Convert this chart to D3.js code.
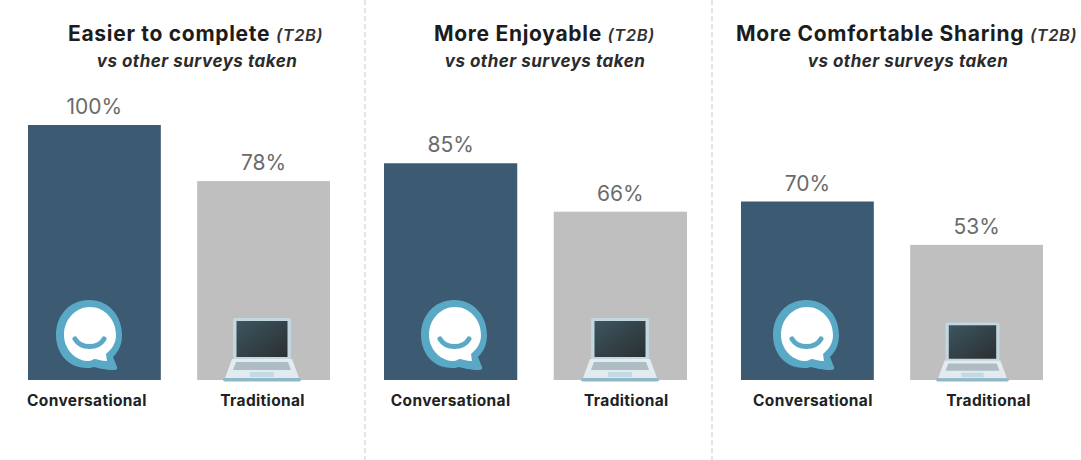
<!DOCTYPE html>
<html>
<head>
<meta charset="utf-8">
<script src="https://cdn.jsdelivr.net/npm/d3@7"></script>
<style>
html,body{margin:0;padding:0;background:#fff;}
svg{display:block;}
text{font-family:"Inter","Open Sans",sans-serif;}
</style>
</head>
<body>
<svg id="chart" width="1081" height="460"></svg>
<script>
// Survey results, top-two-box share per format
const categories = ["Conversational", "Traditional"];
const panelTitles = ["Easier to complete", "More Enjoyable", "More Comfortable Sharing"];
const titleSuffix = "(T2B)";
const subtitle = "vs other surveys taken";
const conversationalValues = [100, 85, 70];
const traditionalValues = [78, 66, 53];

// Panel placement
const panelRanges = [[28, 330], [384, 687], [741, 1043]];
const titleStarts = [68, 434, 736];
const subtitleCentres = [197, 545, 908];
const labelShifts = [[-7.5, -1], [0, 6], [5.5, 12]];
const bubbleCentres = [89, 454, 806];
const laptopCentres = [262, 620, 972.5];
const laptopScales = [1, 1, 0.93];
const dividers = [365, 712];

const colours = {Conversational: "#3d5a73", Traditional: "#bfbfbf"};
const svg = d3.select("#chart");
const baseline = 380;
const y = d3.scaleLinear().domain([0, 100]).range([baseline, 125]);

// Dark glass on the laptop screens
const glass = svg.append("defs").append("linearGradient").attr("id", "glass")
  .attr("x1", 0).attr("y1", 0).attr("x2", 1).attr("y2", 1);
glass.append("stop").attr("offset", 0).attr("stop-color", "#3c5660");
glass.append("stop").attr("offset", 1).attr("stop-color", "#2b2f31");

svg.selectAll("line.divider").data(dividers).join("line")
  .attr("class", "divider")
  .attr("x1", d => d).attr("x2", d => d)
  .attr("y1", 0).attr("y2", 460)
  .attr("stroke", "#dcdcdc").attr("stroke-width", 1.5)
  .attr("stroke-dasharray", "5 3");

function drawBubble(g, cx) {
  const b = g.append("g").attr("transform", `translate(${cx},335)`);
  // Speech bubble: ring with a tail sweeping to the lower right
  b.append("path")
    .attr("d", "M0,-35 C20,-35 33,-19 33,0 C33,9 30,16 24,22 L28,32 Q29,35 25,35 C16,35 10,33 5,32 C2,33 0,33 -2,33 C-21,33 -33,18 -33,0 C-33,-20 -19,-35 0,-35 Z")
    .attr("fill", "#59a9c6");
  b.append("path")
    .attr("d", "M1,-28 C16,-28 27,-15 27,0 C27,8 23,14 17,19 L18,26 C12,26 8,24 5,24 C2,26 0,26 -2,26 C-15,25 -25,13 -25,0 C-25,-15 -14,-28 1,-28 Z")
    .attr("fill", "#ffffff");
  b.append("path")
    .attr("d", "M-14,4 C-8,14 9,14 15,4")
    .attr("fill", "none").attr("stroke", "#59a9c6").attr("stroke-width", 5).attr("stroke-linecap", "round");
}

function drawLaptop(g, cx, k) {
  const l = g.append("g").attr("transform", `translate(${cx},${baseline + 2}) scale(${k})`);
  l.append("rect").attr("x", -29).attr("y", -64).attr("width", 58).attr("height", 41).attr("rx", 2).attr("fill", "#c3d7e0");
  l.append("rect").attr("x", -25.5).attr("y", -61).attr("width", 51).attr("height", 36).attr("fill", "url(#glass)");
  l.append("path").attr("d", "M-30,-23 L30,-23 L37,-4 L-37,-4 Z").attr("fill", "#e2ecf0");
  l.append("path").attr("d", "M-26,-20 L26,-20 L29,-12 L-29,-12 Z").attr("fill", "#aebcc4");
  l.append("rect").attr("x", -12).attr("y", -10).attr("width", 24).attr("height", 5).attr("fill", "#c4d9e3");
  l.append("rect").attr("x", -39).attr("y", -4).attr("width", 78).attr("height", 3.5).attr("rx", 1.7).attr("fill", "#8db9ca");
}

panelTitles.forEach((title, i) => {
  const g = svg.append("g");
  const x = d3.scaleBand().domain(categories).range(panelRanges[i]).paddingInner(0.215);
  const rows = categories.map((c, j) => ({
    category: c,
    value: (j === 0 ? conversationalValues : traditionalValues)[i],
    shift: labelShifts[i][j]
  }));

  const head = g.append("text").attr("x", titleStarts[i]).attr("y", 41)
    .attr("fill", "#1c1c1c");
  head.append("tspan").attr("font-size", 21).attr("letter-spacing", 0.7).attr("font-weight", 700).text(title + " ");
  head.append("tspan").attr("font-size", 16.5).attr("letter-spacing", 0.6).attr("font-weight", 600).attr("font-style", "italic").attr("fill", "#333").text(titleSuffix);

  g.append("text").attr("x", subtitleCentres[i]).attr("y", 66.5)
    .attr("text-anchor", "middle").attr("font-size", 17).attr("letter-spacing", 0.5).attr("font-weight", 700)
    .attr("font-style", "italic").attr("fill", "#2b2b2b").text(subtitle);

  g.selectAll("rect.bar").data(rows).join("rect")
    .attr("class", "bar")
    .attr("x", d => x(d.category)).attr("width", x.bandwidth())
    .attr("y", d => y(d.value)).attr("height", d => baseline - y(d.value))
    .attr("fill", d => colours[d.category]);

  g.selectAll("text.value").data(rows).join("text")
    .attr("class", "value")
    .attr("x", d => x(d.category) + x.bandwidth() / 2)
    .attr("y", d => y(d.value) - 11)
    .attr("text-anchor", "middle").attr("font-size", 21).attr("font-weight", 400).attr("fill", "#6b6b6b")
    .text(d => d.value + "%");

  g.selectAll("text.cat").data(rows).join("text")
    .attr("class", "cat")
    .attr("x", d => x(d.category) + x.bandwidth() / 2 + d.shift)
    .attr("y", 406)
    .attr("text-anchor", "middle").attr("font-size", 15.5).attr("letter-spacing", 0.35).attr("font-weight", 700).attr("fill", "#222")
    .text(d => d.category);

  drawBubble(g, bubbleCentres[i]);
  drawLaptop(g, laptopCentres[i], laptopScales[i]);
});
</script>
</body>
</html>
